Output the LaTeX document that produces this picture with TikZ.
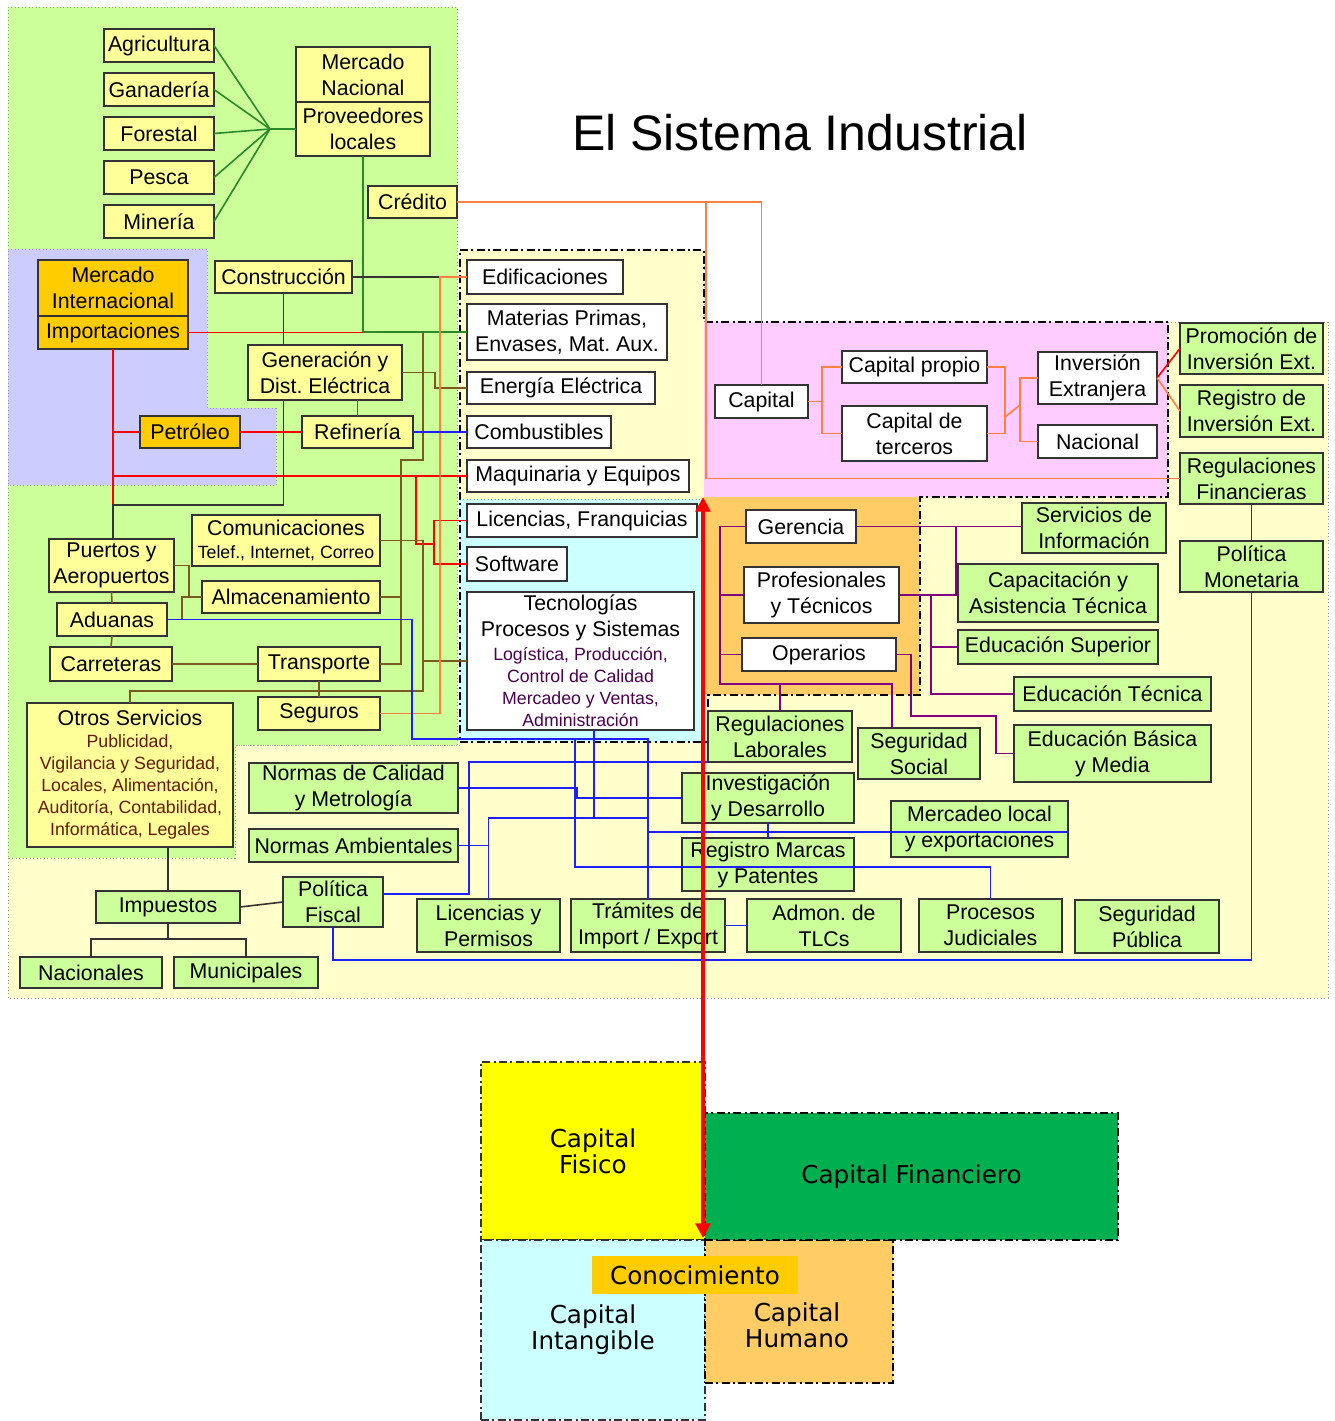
\documentclass[tikz,border=0pt]{standalone}
\usepackage{fontspec}
\setmainfont{Liberation Sans}
\newfontfamily\dvsans{DejaVu Sans}
\usetikzlibrary{arrows.meta}
\frenchspacing
\definecolor{lgreen}{HTML}{CCFF99}
\definecolor{paley}{HTML}{FFFFCC}
\definecolor{lav}{HTML}{CCCCFF}
\definecolor{ybox}{HTML}{FFFF99}
\definecolor{obox}{HTML}{FFCC00}
\definecolor{pinkr}{HTML}{FFCCFF}
\definecolor{oranr}{HTML}{FFCC66}
\definecolor{cyanr}{HTML}{CCFFFF}
\definecolor{bord}{HTML}{333333}
\definecolor{lgrnc}{HTML}{2A8A2A}
\definecolor{brnc}{HTML}{7A5A20}
\definecolor{dkc}{HTML}{333333}
\definecolor{orgc}{HTML}{FF8040}
\definecolor{bluc}{HTML}{1E1EFF}
\definecolor{purc}{HTML}{800080}
\definecolor{redc}{HTML}{FF0000}
\definecolor{fing}{HTML}{00B050}
\definecolor{yelc}{HTML}{FFFF00}
\definecolor{otrc}{HTML}{661A00}
\definecolor{tecc}{HTML}{4B0050}
\newcommand\smtext{\fontsize{13.3}{16.5}\selectfont}
\newcommand\smo{\fontsize{13.3}{16.5}\selectfont\color{otrc}}
\newcommand\smt{\fontsize{13.3}{16.5}\selectfont\color{tecc}}
\newcommand\blkfont{\dvsans\fontsize{18.5}{19.5}\selectfont}
\newcommand\mkbox[7]{%
  \pgfmathsetmacro\bxw{(#4-#2)*0.75}%
  \pgfmathsetmacro\bxh{(#5-#3)*0.75}%
  \node[#6,minimum width=\bxw pt,minimum height=\bxh pt] (#1) at ({(#2+#4)/2},{(#3+#5)/2}) {#7};%
}
\begin{document}
\begin{tikzpicture}[x=0.75pt,y=-0.75pt,
  bx/.style={draw=bord, line width=1.1pt, inner sep=1pt, outer sep=0pt, align=center, text=black, font=\fontsize{16}{19.5}\selectfont},
  ybx/.style={bx, fill=ybox},
  obx/.style={bx, fill=obox},
  wbx/.style={bx, fill=white},
  gbx/.style={bx, fill=lgreen},
  cn/.style={line width=1.2pt},
  lgrnl/.style={draw=lgrnc},
  brnl/.style={draw=brnc},
  dkl/.style={draw=dkc},
  orgl/.style={draw=orgc},
  blul/.style={draw=bluc},
  purl/.style={draw=purc},
  redl/.style={draw=redc},
  dashdotline/.style={dash pattern=on 6pt off 2.5pt on 1.5pt off 2.5pt},
  region/.style={draw=gray!80, dotted, line width=0.6pt},
  blk/.style={draw=black, line width=1.3pt, dashdotline, inner sep=0pt, outer sep=0pt, align=center, font=\blkfont},
]
\useasboundingbox (0,0) rectangle (1335,1421);
\fill[white] (0,0) rectangle (1335,1421);

% ---------- background regions ----------
\path[fill=paley, region] (460,250) -- (704,250) -- (704,322) -- (1328,322) -- (1328,998) -- (8,998) -- (8,745) -- (460,745) -- cycle;
\path[fill=lgreen, region] (8,7) -- (457,7) -- (457,745) -- (235,745) -- (235,858) -- (8,858) -- cycle;
\path[fill=lav, region] (8,249) -- (207,249) -- (207,408) -- (276,408) -- (276,485) -- (8,485) -- cycle;
\fill[paley] (460,250) rectangle (704,499);
\fill[cyanr] (460,499) rectangle (704,742);
\draw[region] (460,499) -- (704,499);
\fill[pinkr] (704,322) rectangle (1168,497);
\fill[oranr] (704,497) rectangle (920,695);
\draw[black, line width=1.5pt, dashdotline] (460,250) -- (704,250) -- (704,322) -- (1168,322) -- (1168,497) -- (920,497) -- (920,695) -- (708,695) -- (708,742) -- (460,742) -- cycle;

% ---------- title ----------
\node[font=\fontsize{37.5}{40}\selectfont, inner sep=0pt] (title) at (800,133) {El Sistema Industrial};

% ---------- left group ----------
\mkbox{agri}{104}{29}{214}{62}{ybx}{Agricultura}
\mkbox{gana}{104}{73}{214}{106}{ybx}{Ganadería}
\mkbox{fore}{104}{117}{214}{150}{ybx}{Forestal}
\mkbox{pesca}{104}{161}{214}{194}{ybx}{Pesca}
\mkbox{mine}{104}{205}{214}{238}{ybx}{Minería}
\mkbox{merc}{296}{47}{430}{102}{ybx}{Mercado\\Nacional}
\mkbox{prov}{296}{102}{430}{156}{ybx}{Proveedores\\locales}
\mkbox{cred}{368}{186}{457}{218}{ybx}{Crédito}
\mkbox{cons}{215}{261}{352}{293}{ybx}{Construcción}
\mkbox{mint}{38}{260}{188}{316}{obx}{Mercado\\Internacional}
\mkbox{impo}{38}{316}{188}{349}{obx}{Importaciones}
\mkbox{gene}{248}{345}{402}{400}{ybx}{Generación y\\Dist. Eléctrica}
\mkbox{refi}{302}{416}{413}{448}{ybx}{Refinería}
\mkbox{petr}{140}{416}{240}{448}{obx}{Petróleo}
\mkbox{comu}{192}{515}{380}{566}{ybx,font=\fontsize{16}{17.25}\selectfont}{Comunicaciones\\\smtext Telef., Internet, Correo}
\mkbox{puer}{49}{539}{174}{592}{ybx}{Puertos y\\Aeropuertos}
\mkbox{alma}{202}{581}{380}{613}{ybx}{Almacenamiento}
\mkbox{adua}{57}{603}{167}{636}{ybx}{Aduanas}
\mkbox{carr}{50}{647}{172}{681}{ybx}{Carreteras}
\mkbox{tran}{258}{647}{380}{681}{ybx}{Transporte}
\mkbox{segu}{258}{697}{380}{730}{ybx}{Seguros}
\mkbox{otro}{27}{703}{233}{847}{ybx,font=\fontsize{16}{16.5}\selectfont}{Otros Servicios\\\smo Publicidad,\\\smo Vigilancia y Seguridad,\\\smo Locales, Alimentación,\\\smo Auditoría, Contabilidad,\\\smo Informática, Legales}

% ---------- center panel ----------
\mkbox{edif}{467}{260}{623}{294}{wbx}{Edificaciones}
\mkbox{mate}{467}{304}{667}{360}{wbx}{Materias Primas,\\Envases, Mat. Aux.}
\mkbox{ener}{467}{372}{655}{404}{wbx}{Energía Eléctrica}
\mkbox{comb}{467}{416}{611}{448}{wbx}{Combustibles}
\mkbox{maqu}{467}{460}{689}{492}{wbx}{Maquinaria y Equipos}
\mkbox{lice}{467}{504}{697}{537}{wbx}{Licencias, Franquicias}
\mkbox{soft}{467}{547}{567}{581}{wbx}{Software}
\mkbox{tecn}{467}{592}{694}{730}{wbx,font=\fontsize{16}{16.5}\selectfont}{Tecnologías\\[3pt]Procesos y Sistemas\\[1.5pt]\smt Logística, Producción,\\\smt Control de Calidad\\\smt Mercadeo y Ventas,\\\smt Administración}

% ---------- pink region ----------
\mkbox{capi}{715}{385}{808}{418}{wbx}{Capital}
\mkbox{capp}{842}{351}{987}{383}{wbx}{Capital propio}
\mkbox{capt}{842}{406}{987}{461}{wbx}{Capital de\\terceros}
\mkbox{inve}{1038}{352}{1157}{404}{wbx}{Inversión\\Extranjera}
\mkbox{naci}{1038}{425}{1157}{458}{wbx}{Nacional}
\mkbox{prom}{1180}{323}{1323}{374}{gbx}{Promoción de\\Inversión Ext.}
\mkbox{regi}{1180}{385}{1323}{437}{gbx}{Registro de\\Inversión Ext.}
\mkbox{regf}{1180}{453}{1323}{504}{gbx}{Regulaciones\\Financieras}
\mkbox{polm}{1180}{541}{1323}{592}{gbx}{Política\\Monetaria}

% ---------- orange region ----------
\mkbox{gere}{746}{510}{856}{543}{wbx}{Gerencia}
\mkbox{prof}{744}{567}{899}{623}{wbx}{Profesionales\\y Técnicos}
\mkbox{oper}{742}{638}{896}{671}{wbx}{Operarios}
\mkbox{serv}{1022}{503}{1166}{553}{gbx}{Servicios de\\Información}
\mkbox{capa}{958}{564}{1158}{622}{gbx}{Capacitación y\\Asistencia Técnica}
\mkbox{esup}{958}{630}{1158}{664}{gbx}{Educación Superior}
\mkbox{etec}{1014}{677}{1211}{711}{gbx}{Educación Técnica}
\mkbox{ebas}{1014}{725}{1211}{782}{gbx}{Educación Básica\\y Media}
\mkbox{regl}{708}{711}{852}{762}{gbx}{Regulaciones\\Laborales}
\mkbox{segs}{858}{728}{980}{779}{gbx}{Seguridad\\Social}

% ---------- bottom boxes ----------
\mkbox{ncal}{249}{763}{458}{813}{gbx}{Normas de Calidad\\y Metrología}
\mkbox{namb}{249}{829}{458}{862}{gbx}{Normas Ambientales}
\mkbox{invd}{682}{773}{854}{823}{gbx}{Investigación\\y Desarrollo}
\mkbox{merl}{891}{801}{1068}{857}{gbx}{Mercadeo local\\y exportaciones}
\mkbox{regm}{682}{838}{854}{891}{gbx}{Registro Marcas\\y Patentes}
\mkbox{impu}{96}{891}{240}{923}{gbx}{Impuestos}
\mkbox{polf}{283}{877}{383}{927}{gbx}{Política\\Fiscal}
\mkbox{licp}{417}{899}{560}{952}{gbx}{Licencias y\\Permisos}
\mkbox{tram}{571}{899}{725}{952}{gbx}{Trámites de\\Import / Export}
\mkbox{admo}{747}{899}{901}{952}{gbx}{Admon. de\\TLCs}
\mkbox{proc}{919}{899}{1062}{952}{gbx}{Procesos\\Judiciales}
\mkbox{segp}{1075}{900}{1219}{953}{gbx}{Seguridad\\Pública}
\mkbox{nacs}{20}{957}{162}{988}{gbx}{Nacionales}
\mkbox{muni}{174}{957}{318}{988}{gbx}{Municipales}

% ---------- connectors: green ----------
\coordinate (hub) at (270,129);
\foreach \n in {agri,gana,fore,pesca,mine} \draw[cn,lgrnl] (\n.east) -- (hub);
\draw[cn,lgrnl] (hub) -- (prov.west);
\draw[cn,lgrnl] (prov.south) -- (prov.south |- mate.west) -- (mate.west);

% ---------- connectors: red ----------
\coordinate (j505) at (113,505);
\draw[cn,redl] (impo.east) -- (impo.east -| prov.south);
\draw[cn,redl] (impo.south) -- (j505);
\draw[cn,redl] (impo.south |- petr.west) -- (petr.west);
\draw[cn,redl] (impo.south |- maqu.west) -- (maqu.west);
\draw[cn,redl] (petr.east) -- (refi.west);
\coordinate (x416) at (416,0); \coordinate (y544) at (0,544);
\draw[cn,redl] (x416 |- maqu.west) -- (x416 |- y544) -- ++(18,0);
\draw[cn,redl] (lice.west) -- ++(-33,0) |- (soft.west);

% ---------- connectors: dark ----------
\draw[cn,dkl] (cons.east) -- (edif.west);
\draw[cn,dkl] (cons.south) -- (cons.south |- gene.north);
\draw[cn,dkl] (cons.south |- gene.south) -- (cons.south |- j505) -- (j505) -- (j505 |- puer.north);
\draw[cn,dkl] (otro.south -| impu.north) -- (impu.north);
\draw[cn,dkl] (impu.east) -- (polf.west);
\coordinate (y939) at (0,939);
\draw[cn,dkl] (impu.south) -- (impu.south |- y939);
\draw[cn,dkl] (nacs.north) -- (nacs.north |- y939) -- (muni.north |- y939) -- (muni.north);

% ---------- connectors: brown ----------
\coordinate (x435) at (435,0);
\draw[cn,brnl] (gene.east) -- (gene.east -| x435) -- (x435 |- ener.west) -- (ener.west);
\draw[cn,brnl] (gene.south -| refi.north) -- (refi.north);
\coordinate (x401) at (401,0); \coordinate (x423) at (423,0); \coordinate (y460) at (0,460);
\draw[cn,brnl] (tran.east) -- (tran.east -| x401) -- (x401 |- y460) -- (x423 |- y460) -- (x423 |- mate.west);
\draw[cn,brnl] (alma.east) -- (alma.east -| x401);
\coordinate (y691) at (0,691);
\draw[cn,brnl] (comu.east) -- (comu.east -| x423) -- (x423 |- y691) -- (otro.north |- y691) -- (otro.north);
\draw[cn,brnl] (tecn.west -| x423) -- (tecn.west);
\draw[cn,brnl] (tran.south) -- (segu.north);
\draw[cn,brnl] (puer.east) -- ++(15,0) |- (alma.west);
\draw[cn,brnl] (adua.east) -- ++(15,0) |- (alma.west);
\draw[cn,brnl] (puer.south) -- (adua.north);
\draw[cn,brnl] (adua.south) -- (carr.north);
\draw[cn,brnl] (carr.east) -- (tran.west);

% ---------- connectors: orange ----------
\coordinate (x440) at (440,0);
\draw[cn,orgl] (segu.east) -- (segu.east -| x440) -- (x440 |- edif.west) -- (edif.west);
\draw[cn,orgl] (cred.east) -- (cred.east -| capi.north) -- (capi.north);
\coordinate (x706) at (706,0);
\draw[cn,orgl] (cred.east -| x706) -- (x706 |- regf.west) -- (regf.west);
\draw[cn,orgl] (capi.east) -- ++(14,0);
\draw[cn,orgl] (capp.west) -- ++(-20,0) |- (capt.west);
\draw[cn,orgl] (capp.east) -- ++(18,0) |- (capt.east);
\draw[cn,orgl] (1005,417) -- (1020,405);
\draw[cn,orgl] (inve.west) -- ++(-18,0) |- (naci.west);
\draw[cn,redl] (inve.east) -- (prom.west);
\draw[cn,orgl] (inve.east) -- (regi.west);

% ---------- connectors: purple ----------
\coordinate (x720) at (720,0); \coordinate (y684) at (0,684); \coordinate (x892) at (892,0);
\draw[cn,purl] (gere.west) -- (gere.west -| x720) -- (x720 |- y684) -- (x892 |- y684) -- (x892 |- segs.north);
\draw[cn,purl] (prof.west) -- (prof.west -| x720);
\draw[cn,purl] (oper.west) -- (oper.west -| x720);
\draw[cn,purl] (regl.north |- y684) -- (regl.north);
\draw[cn,purl] (gere.east) -- (gere.east -| serv.west);
\coordinate (x956) at (956,0);
\draw[cn,purl] (gere.east -| x956) -- (x956 |- prof.east);
\draw[cn,purl] (prof.east) -- (prof.east -| capa.west);
\coordinate (x931) at (931,0);
\draw[cn,purl] (prof.east -| x931) -- (x931 |- etec.west) -- (etec.west);
\draw[cn,purl] (x931 |- esup.west) -- (esup.west);
\coordinate (x911) at (911,0); \coordinate (x996) at (996,0); \coordinate (y716) at (0,716);
\draw[cn,purl] (oper.east) -- (oper.east -| x911) -- (x911 |- y716) -- (x996 |- y716) -- (x996 |- ebas.west) -- (ebas.west);

% ---------- connectors: blue ----------
\draw[cn,blul] (refi.east) -- (comb.west);
\coordinate (x412) at (412,0); \coordinate (y739) at (0,739);
\draw[cn,blul] (adua.east) -- (adua.east -| x412) -- (x412 |- y739) -- (tram.north |- y739) -- (tram.north);
\coordinate (x577) at (577,0);
\draw[cn,blul] (ncal.east) -- (ncal.east -| x577) -- (x577 |- invd.west) -- (invd.west);
\draw[cn,blul] (namb.east) -- (namb.east -| licp.north);
\coordinate (y818) at (0,818);
\draw[cn,blul] (licp.north) -- (licp.north |- y818) -- (tram.north |- y818);
\coordinate (x594) at (594,0);
\draw[cn,blul] (tecn.south -| x594) -- (x594 |- y818);
\coordinate (x575) at (575,0); \coordinate (y867) at (0,867);
\draw[cn,blul] (x575 |- y739) -- (x575 |- y867) -- (proc.north |- y867) -- (proc.north);
\coordinate (y832) at (0,832);
\draw[cn,blul] (tram.north |- y832) -- (merl.east |- y832);
\coordinate (x469) at (469,0); \coordinate (y894) at (0,894);
\draw[cn,blul] (polf.east |- y894) -- (x469 |- y894) -- (x469 |- regl.south) -- (regl.south west);
\coordinate (y960) at (0,960);
\draw[cn,blul] (polf.south) -- (polf.south |- y960) -- (polm.south |- y960) -- (polm.south);
\draw[cn,blul] (regf.south) -- (polm.north);
\draw[cn,blul] (invd.south) -- (regm.north);
\draw[cn,blul] (tram.east) -- (admo.west);

% ---------- bottom capital blocks ----------
\mkbox{fisi}{481}{1062}{705}{1240}{blk,fill=yelc,draw=bord,line width=1pt}{Capital\\Fisico}
\mkbox{inta}{481}{1240}{705}{1420}{blk,fill=cyanr,draw=bord,line width=1pt}{Capital\\Intangible}
\mkbox{huma}{705}{1240}{893}{1383}{blk,fill=oranr}{}
\node[font=\blkfont, align=center, inner sep=0pt] (humt) at (797,1325) {Capital\\Humano};
\mkbox{fina}{705}{1113}{1118}{1240}{blk,fill=fing}{Capital Financiero}
\mkbox{cono}{592}{1256}{798}{1294}{blk,draw=none,fill=obox}{Conocimiento}

% ---------- red double arrow ----------
\coordinate (atop) at (703,497);
\coordinate (abot) at (703,1238);
\draw[redc, line width=3pt, {Triangle[length=11pt,width=11pt]}-{Triangle[length=11pt,width=11pt]}] (atop) -- (abot);
\end{tikzpicture}
\end{document}
